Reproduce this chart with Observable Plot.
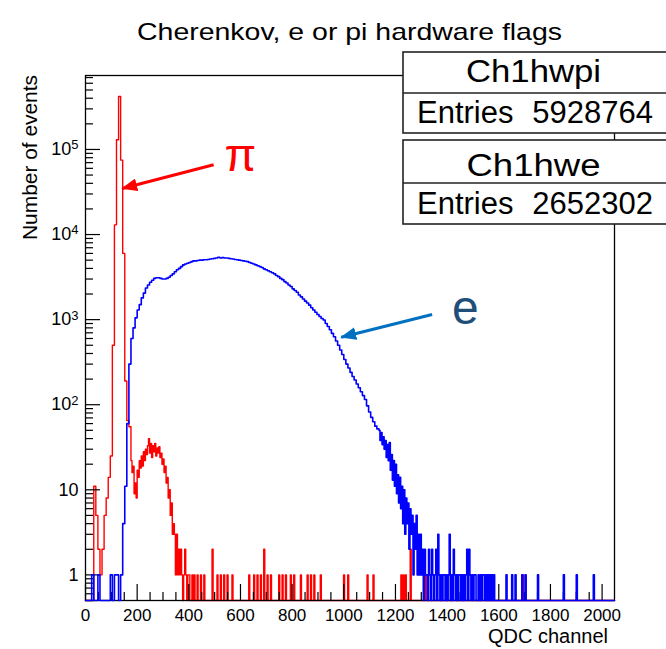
<!DOCTYPE html>
<html>
<head>
<meta charset="utf-8">
<script src="https://cdn.jsdelivr.net/npm/d3@7"></script>
<script src="https://cdn.jsdelivr.net/npm/@observablehq/plot@0.6"></script>
<style>
  body { margin: 0; background: #fff; }
  #chart svg { display: block; }
</style>
</head>
<body>
<div id="chart"></div>
<script>
// ---------------- text ----------------
const title = "Cherenkov, e or pi hardware flags";
const xTitle = "QDC channel";
const yTitle = "Number of events";
const statNames = ["Ch1hwpi", "Ch1hwe"];
const statEntries = ["5928764", "2652302"];
const piLabel = "π";
const eLabel = "e";

// ---------------- axes ----------------
const xDomain = [0, 2048];
const yDomain = [0.5, 740000];
const xTickValues = [0, 200, 400, 600, 800, 1000, 1200, 1400, 1600, 1800, 2000];
const yTickValues = [1, 10, 100, 1000, 10000, 100000];
const yTickBases = ["1", "10", "10", "10", "10", "10"];
const yTickExponents = ["", "", "2", "3", "4", "5"];

// ---------------- data ----------------
const binWidth = 8;     // channels per coarse histogram bin
const fineWidth = 4;    // channels per fine histogram bin / isolated noise bin

// pi histogram (red): coarse 8-channel bins from channel 32
const piStart = 32;
const piCounts = [
  11, 5, 2, 1, 2, 5, 8, 14, 25, 500,
  13000, 130000, 420000, 75000, 6000, 190, 65, 55
];
// pi bump, fine 4-channel bins from channel 176
const piFineStart = 176;
const piFineCounts = [
  22, 16, 19, 9, 12, 8, 17, 14, 22, 18,
  25, 19, 28, 22, 30, 26, 33, 40, 27, 35,
  24, 33, 28, 35, 25, 31, 27, 32, 24, 27,
  20, 23, 16, 19, 12, 14, 8, 10, 5, 7,
  3, 4, 3, 1, 3, 1, 2, 1, 2, 1,
  0, 1, 2, 1, 0, 1, 1, 0
];
// isolated pi noise bins
const piSpikeChannels = [
  412, 420, 432, 445, 458, 490, 509, 522, 535, 548,
  567, 632, 651, 664, 677, 690, 703, 716, 748, 761,
  774, 793, 806, 832, 858, 871, 884, 909, 999, 1015,
  1090, 1113, 1221, 1229, 1238, 1257, 1309, 1315, 1564, 1693
];
const piSpikeCounts = [
  1, 1, 1, 1, 1, 2, 1, 1, 1, 1,
  1, 1, 1, 1, 1, 2, 1, 1, 1, 1,
  1, 1, 1, 1, 1, 1, 1, 1, 1, 1,
  1, 1, 1, 1, 1, 2, 1, 1, 1, 1
];

// e histogram (blue): coarse 8-channel bins from channel 24
const eStart = 24;
const eCounts = [
  1, 0, 0, 1, 0, 0, 0, 0, 0, 1, 0, 1, 1, 0, 1,
  4, 11, 60, 300, 600, 800, 1050, 1300, 1500, 1800,
  2050, 2350, 2550, 2750, 2900, 3050, 3100, 3100, 3050, 3000,
  3000, 3050, 3150, 3300, 3450, 3650, 3850, 4000, 4200, 4400,
  4500, 4600, 4700, 4800, 4900, 4900, 4950, 5000, 5000, 5050,
  5050, 5100, 5150, 5200, 5250, 5300, 5400, 5300, 5350, 5300,
  5300, 5250, 5200, 5150, 5100, 5050, 5000, 4950, 4900, 4850,
  4800, 4700, 4600, 4500, 4400, 4300, 4200, 4100, 3950, 3850,
  3750, 3650, 3550, 3450, 3300, 3200, 3050, 2950, 2800, 2700,
  2550, 2450, 2300, 2200, 2100, 1950, 1850, 1750, 1650, 1570,
  1480, 1380, 1300, 1220, 1150, 1090, 1030, 990, 900, 830,
  760, 690, 630, 560, 500, 440, 390, 340, 300, 270,
  240, 215, 195, 175, 158, 142, 128, 115, 97, 82,
  71, 63, 56, 52
];
// e falling edge, fine 4-channel bins from channel 1136
const eFineStart = 1136;
const eFineCounts = [
  50, 38, 47, 34, 42, 30, 38, 24, 34, 22,
  36, 17, 26, 13, 22, 11, 20, 9, 15, 7,
  14, 6, 11, 4, 10, 3, 8, 4, 7, 2,
  6, 3, 5, 1, 4, 2, 5, 1, 3, 1,
  3, 1, 2, 0, 2, 1
];
// e tail, fine 4-channel bins from channel 1320
const eTailStart = 1320;
const eTailCounts = [
  1, 0, 2, 1, 0, 2, 1, 0, 1, 2,
  0, 3, 1, 0, 1, 0, 1, 1, 0, 1,
  0, 1, 3, 0, 1, 0, 2, 1, 0, 1,
  0, 1, 1, 0, 1, 0, 1, 0, 1, 2,
  0, 2, 1, 0, 1, 0, 1, 1, 0, 0,
  1, 0, 1, 0, 1, 1, 0, 1, 0, 1,
  0, 1, 0, 1, 0, 1, 0, 0, 0, 0
];
const eSpikeChannels = [1628, 1650, 1663, 1689, 1702, 1750, 1850, 1900, 1966];
const eSpikeCounts = [1, 1, 1, 1, 1, 1, 1, 1, 1];

// annotation anchors (data coordinates): tail -> tip
const arrows = [
  {x1: 496, y1: 66000, x2: 142, y2: 34700, color: "#ff0000", id: "headPi"},
  {x1: 1342, y1: 1150, x2: 990, y2: 621, color: "#0070c0", id: "headE"}
];
const labels = [
  {x: 600, y: 83000, text: piLabel, color: "#ff0000", size: 46},
  {x: 1471, y: 1350, text: eLabel, color: "#1f4e79", size: 48}
];

// ---------------- build step outlines ----------------
function binSegs(start, width, counts) {
  return counts.map((c, i) => ({x0: start + i * width, x1: start + (i + 1) * width, c}));
}
function spikeSegs(channels, counts, width) {
  return channels.map((ch, i) => ({x0: ch, x1: ch + width, c: counts[i]}));
}
function outline(segs) {
  const F = yDomain[0];
  const pts = [{x: xDomain[0], y: F}];
  let lastX = xDomain[0];
  for (const s of segs) {
    const y = s.c > 0 ? s.c : F;
    if (s.x0 > lastX) { pts.push({x: lastX, y: F}); pts.push({x: s.x0, y: F}); }
    pts.push({x: s.x0, y});
    pts.push({x: s.x1, y});
    lastX = s.x1;
  }
  pts.push({x: lastX, y: F});
  pts.push({x: xDomain[1], y: F});
  return pts;
}
const piLine = outline([
  ...binSegs(piStart, binWidth, piCounts),
  ...binSegs(piFineStart, fineWidth, piFineCounts),
  ...spikeSegs(piSpikeChannels, piSpikeCounts, fineWidth)
]);
const eLine = outline([
  ...binSegs(eStart, binWidth, eCounts),
  ...binSegs(eFineStart, fineWidth, eFineCounts),
  ...binSegs(eTailStart, fineWidth, eTailCounts),
  ...spikeSegs(eSpikeChannels, eSpikeCounts, fineWidth)
]);

// minor ticks
const xMinor = d3.range(0, 2001, 50).filter(v => !xTickValues.includes(v));
const yMinor = d3.scaleLog().domain(yDomain).ticks().filter(v => !yTickValues.includes(v));

// ---------------- layout ----------------
const W = 666, H = 649;
const mL = 85, mR = 52, mT = 75, mB = 49;
const innerW = W - mL - mR, innerH = H - mT - mB;
const FONT = '"Liberation Sans", Arial, Helvetica, sans-serif';

const chart = Plot.plot({
  width: W, height: H,
  marginLeft: mL, marginRight: mR, marginTop: mT, marginBottom: mB,
  x: {domain: xDomain},
  y: {type: "log", domain: yDomain},
  style: {fontFamily: FONT, fontSize: "18px", background: "#fff", color: "#000", overflow: "visible"},
  marks: [
    Plot.line(piLine, {x: "x", y: "y", stroke: "#ff0000", strokeWidth: 1.4}),
    Plot.ruleX(xMinor, {x: d => d, insetTop: innerH - 8, stroke: "#000", strokeWidth: 1.2}),
    Plot.ruleX(xTickValues, {x: d => d, insetTop: innerH - 16, stroke: "#000", strokeWidth: 1.2}),
    Plot.ruleY(yMinor, {y: d => d, insetRight: innerW - 8, stroke: "#000", strokeWidth: 1.2}),
    Plot.ruleY(yTickValues, {y: d => d, insetRight: innerW - 15, stroke: "#000", strokeWidth: 1.2}),
    Plot.axisX({ticks: xTickValues, tickSize: 0, tickPadding: 8, fontSize: 17, label: null, tickFormat: d => String(d)}),
    Plot.axisY({ticks: yTickValues, tickSize: 0, tickPadding: 7, fontSize: 18, label: null,
                tickFormat: d => yTickBases[yTickValues.indexOf(d)] + yTickExponents[yTickValues.indexOf(d)]}),
    Plot.frame({stroke: "#000", strokeWidth: 1.3}),
    Plot.line(eLine, {x: "x", y: "y", stroke: "#0000ff", strokeWidth: 1.6}),
    Plot.link(arrows, {x1: "x1", y1: "y1", x2: "x2", y2: "y2", stroke: "color", strokeWidth: 3}),
    Plot.text(labels, {x: "x", y: "y", text: "text", fill: "color", fontSize: d => d.size})
  ]
});
document.getElementById("chart").appendChild(chart);

// ---------------- decorations ----------------
const svg = d3.select(chart);
const defs = svg.append("defs");
arrows.forEach(a => {
  defs.append("marker")
    .attr("id", a.id).attr("viewBox", "0 0 16 13")
    .attr("refX", 15).attr("refY", 6.5)
    .attr("markerWidth", 16).attr("markerHeight", 13)
    .attr("markerUnits", "userSpaceOnUse").attr("orient", "auto")
    .append("path").attr("d", "M0,0L16,6.5L0,13Z").attr("fill", a.color);
});
svg.selectAll('g[aria-label="link"] path')
  .attr("marker-end", (d, i) => `url(#${arrows[i].id})`);

// superscript exponents on y tick labels
svg.selectAll('g[aria-label="y-axis tick label"] text').each(function() {
  const t = d3.select(this);
  const txt = t.text();
  const k = yTickBases.findIndex((b, j) => b + yTickExponents[j] === txt);
  if (k >= 0 && yTickExponents[k]) {
    t.text(yTickBases[k]);
    t.append("tspan").attr("font-size", 13).attr("dy", "-0.45em").text(yTickExponents[k]);
  }
});

const deco = svg.append("g").attr("font-family", FONT).attr("fill", "#000");
// title
deco.append("text").attr("x", 349.5).attr("y", 40).attr("text-anchor", "middle")
  .attr("font-size", 24).attr("textLength", 425).attr("lengthAdjust", "spacingAndGlyphs").text(title);
// x title
deco.append("text").attr("x", 608).attr("y", 643).attr("text-anchor", "end")
  .attr("font-size", 20).text(xTitle);
// y title
deco.append("text").attr("transform", "translate(36.5,75) rotate(-90)").attr("text-anchor", "end")
  .attr("font-size", 20).attr("textLength", 165).attr("lengthAdjust", "spacingAndGlyphs").text(yTitle);

// stats boxes
const boxes = [
  {top: 52, bottom: 133, div: 93, nameY: 82, entY: 123, nameLen: 135},
  {top: 140, bottom: 224, div: 183, nameY: 176, entY: 214, nameLen: 134}
];
boxes.forEach((b, i) => {
  const g = deco.append("g");
  g.append("rect").attr("x", 403).attr("y", b.top).attr("width", 300).attr("height", b.bottom - b.top)
    .attr("fill", "#fff").attr("stroke", "#222").attr("stroke-width", 1.6);
  g.append("line").attr("x1", 403).attr("x2", 703).attr("y1", b.div).attr("y2", b.div)
    .attr("stroke", "#222").attr("stroke-width", 1.6);
  g.append("text").attr("x", 533.5).attr("y", b.nameY).attr("text-anchor", "middle")
    .attr("font-size", 31).attr("textLength", b.nameLen).attr("lengthAdjust", "spacingAndGlyphs")
    .text(statNames[i]);
  g.append("text").attr("x", 417).attr("y", b.entY).attr("text-anchor", "start")
    .attr("font-size", 31).text("Entries");
  g.append("text").attr("x", 653).attr("y", b.entY).attr("text-anchor", "end").attr("font-size", 31)
    .text(statEntries[i]);
});
</script>
</body>
</html>
